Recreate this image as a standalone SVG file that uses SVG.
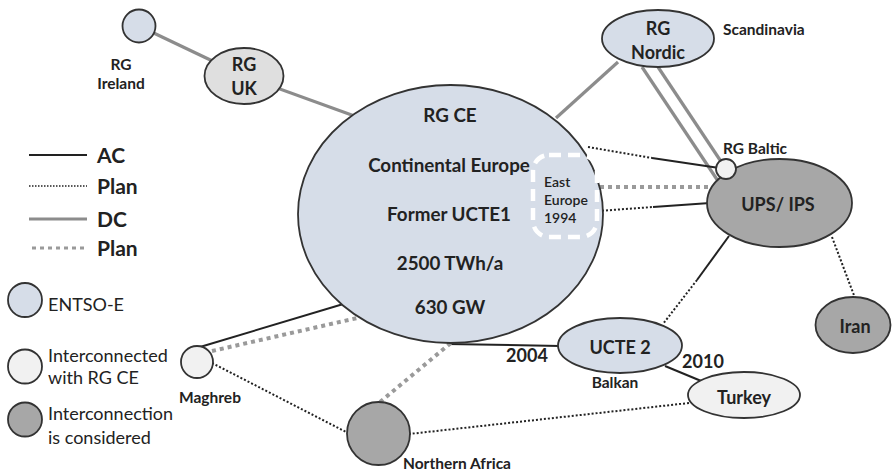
<svg xmlns="http://www.w3.org/2000/svg" width="892" height="473" viewBox="0 0 892 473">
<style>
.ent{fill:#d6dde8;stroke:#333;stroke-width:1.8}
.ic{fill:#f1f1f1;stroke:#333;stroke-width:1.8}
.cons{fill:#a7a7a7;stroke:#333;stroke-width:1.8}
.uk{fill:#dfdfdf;stroke:#333;stroke-width:1.8}
.ac{stroke:#222;stroke-width:2;fill:none}
.acp{stroke:#222;stroke-width:2;stroke-dasharray:2 2;fill:none}
.dc{stroke:#8c8c8c;stroke-width:3.2;fill:none}
.dcp{stroke:#9a9a9a;stroke-width:4;stroke-dasharray:4 4;fill:none}
text{font-family:Lato,"Open Sans","Liberation Sans",sans-serif;fill:#222}
.n{font-size:18px;font-weight:bold;text-anchor:middle}
.ce{font-size:18.8px}
.s{font-size:15.5px;font-weight:bold}
.sm{text-anchor:middle}
.lg{font-size:21px;font-weight:bold}
.lt{font-size:18px}
.ee{font-size:14px;font-weight:600}
</style>
<g id="connectors">
<line class="dc" x1="139" y1="26" x2="244" y2="76"/>
<line class="dc" x1="244" y1="76" x2="360" y2="118"/>
<line class="dc" x1="618" y1="62" x2="556" y2="118"/>
<line class="dc" x1="642" y1="67" x2="718" y2="181"/>
<line class="dc" x1="658" y1="67" x2="726" y2="169"/>
<polyline class="acp" points="588,147 652,158"/>
<line class="ac" x1="652" y1="158" x2="726" y2="169"/>
<line class="dcp" x1="600" y1="187" x2="708" y2="187"/>
<line class="acp" x1="598" y1="211" x2="653" y2="207"/>
<line class="ac" x1="653" y1="207" x2="710" y2="203"/>
<line class="ac" x1="729" y1="236" x2="697" y2="280"/>
<line class="acp" x1="697" y1="280" x2="663" y2="324"/>
<line class="acp" x1="832" y1="237" x2="855" y2="298"/>
<line class="ac" x1="447" y1="344" x2="560" y2="346"/>
<line class="ac" x1="665" y1="366" x2="706" y2="383"/>
<line class="acp" x1="689" y1="403" x2="409" y2="434"/>
<line class="ac" x1="200" y1="347" x2="350" y2="302"/>
<line class="dcp" x1="212" y1="351" x2="366" y2="316"/>
<line class="acp" x1="212" y1="363" x2="348" y2="433"/>
<line class="dcp" x1="380" y1="402" x2="452" y2="342"/>
</g>
<g id="rg-ireland">
<circle class="ent" cx="139" cy="26" r="16.5"/>
<text class="s sm" x="121" y="69.5">RG</text>
<text class="s sm" x="121" y="88.5">Ireland</text>
</g>
<g id="rg-uk">
<ellipse class="uk" cx="244" cy="76" rx="39.5" ry="28"/>
<text class="n" x="244" y="71">RG</text>
<text class="n" x="244" y="95">UK</text>
</g>
<g id="rg-ce">
<ellipse class="ent" cx="450.5" cy="214" rx="152.5" ry="129"/>
<text class="n ce" x="450" y="121.5">RG CE</text>
<text class="n ce" x="449" y="171.5">Continental Europe</text>
<text class="n ce" x="449" y="220.5">Former UCTE1</text>
<text class="n ce" x="450" y="269.5">2500 TWh/a</text>
<text class="n ce" x="450" y="313.5">630 GW</text>
</g>
<g id="east-europe">
<rect x="533" y="155" width="64" height="82" rx="16" fill="none" stroke="#fff" stroke-width="4.5" stroke-dasharray="12 7"/>
<text class="ee" x="544" y="187">East</text>
<text class="ee" x="544" y="205">Europe</text>
<text class="ee" x="544" y="223">1994</text>
</g>
<g id="rg-nordic">
<ellipse class="ent" cx="658" cy="38.5" rx="56" ry="28.5"/>
<text class="n" x="658" y="34.5">RG</text>
<text class="n" x="658" y="58.5">Nordic</text>
<text class="s" x="723" y="34.5">Scandinavia</text>
</g>
<g id="ups-ips">
<ellipse class="cons" cx="779.5" cy="203" rx="72.5" ry="44"/>
<text class="n" x="778" y="210.5">UPS/ IPS</text>
</g>
<g id="rg-baltic">
<circle class="ic" cx="726" cy="169" r="10"/>
<text class="s" x="723" y="153.5">RG Baltic</text>
</g>
<g id="iran">
<ellipse class="cons" cx="853" cy="325" rx="37.5" ry="28"/>
<text class="n" x="855" y="332.5">Iran</text>
</g>
<g id="ucte2">
<ellipse class="ent" cx="620" cy="345.5" rx="62" ry="27.5"/>
<text class="n" x="620" y="353.5">UCTE 2</text>
<text class="s sm" x="615" y="387.5">Balkan</text>
<text class="n" x="527" y="361.5">2004</text>
<text class="n" x="703" y="367.5">2010</text>
</g>
<g id="turkey">
<ellipse class="ic" cx="744" cy="395" rx="56" ry="23"/>
<text class="n" x="744" y="403.5">Turkey</text>
</g>
<g id="maghreb">
<circle class="ic" cx="197" cy="362" r="16"/>
<text class="s sm" x="210" y="402.5">Maghreb</text>
</g>
<g id="northern-africa">
<circle class="cons" cx="378.5" cy="433.5" r="31.5"/>
<text class="s sm" x="457" y="468.5">Northern Africa</text>
</g>
<g id="legend">
<line class="ac" x1="29" y1="155" x2="87" y2="155"/>
<text class="lg" x="97" y="162.5">AC</text>
<line stroke="#222" stroke-width="1.5" stroke-dasharray="1.5 1.5" x1="29" y1="186" x2="87" y2="186"/>
<text class="lg" x="97" y="193.5">Plan</text>
<line class="dc" x1="29" y1="219" x2="87" y2="219"/>
<text class="lg" x="97" y="226.5">DC</text>
<line stroke="#9a9a9a" stroke-width="3" stroke-dasharray="4 4" x1="32" y1="248" x2="87" y2="248"/>
<text class="lg" x="97" y="255.5">Plan</text>
<circle class="ent" cx="25" cy="300" r="17"/>
<text class="lt" x="48" y="310.5">ENTSO-E</text>
<circle class="ic" cx="25" cy="366.5" r="17"/>
<text class="lt" x="48" y="361.5">Interconnected</text>
<text class="lt" x="48" y="383.5">with RG CE</text>
<circle class="cons" cx="25" cy="419.5" r="17"/>
<text class="lt" x="48" y="419.5">Interconnection</text>
<text class="lt" x="48" y="443.5">is considered</text>
</g>
</svg>
